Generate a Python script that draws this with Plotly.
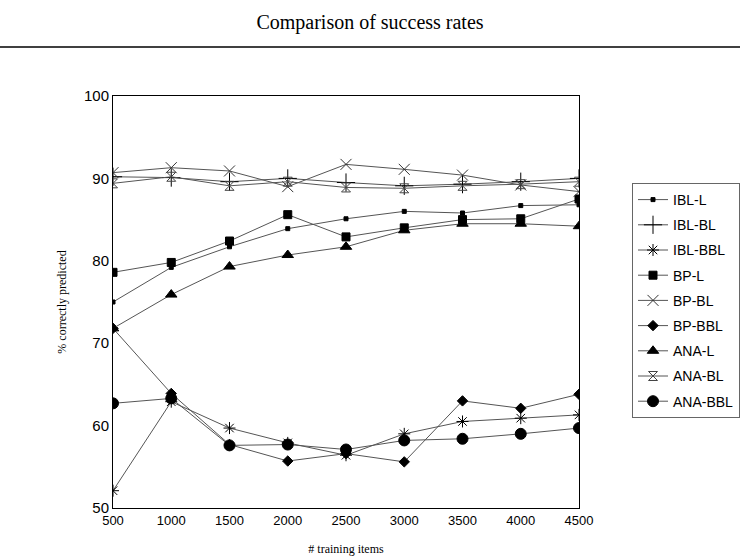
import plotly.graph_objects as go

training_items = [500, 1000, 1500, 2000, 2500, 3000, 3500, 4000, 4500]

series_names = ["IBL-L", "IBL-BL", "IBL-BBL", "BP-L", "BP-BL", "BP-BBL", "ANA-L", "ANA-BL", "ANA-BBL"]

ibl_l = [75.0, 79.2, 81.7, 83.9, 85.1, 86.0, 85.8, 86.7, 86.8]
ibl_bl = [90.2, 90.1, 89.6, 90.0, 89.5, 89.1, 89.3, 89.6, 90.0]
ibl_bbl = [52.1, 62.9, 59.7, 57.9, 56.4, 59.0, 60.5, 60.9, 61.3]
bp_l = [78.6, 79.8, 82.4, 85.6, 82.9, 84.0, 85.0, 85.1, 87.5]
bp_bl = [90.7, 91.3, 90.9, 89.0, 91.7, 91.1, 90.4, 89.2, 88.4]
bp_bbl = [71.8, 63.9, 57.7, 55.7, 56.6, 55.6, 63.0, 62.1, 63.8]
ana_l = [71.8, 75.9, 79.3, 80.7, 81.7, 83.7, 84.5, 84.5, 84.2]
ana_bl = [89.4, 90.2, 89.1, 89.6, 88.9, 88.8, 89.1, 89.3, 89.6]
ana_bbl = [62.7, 63.3, 57.6, 57.7, 57.1, 58.2, 58.4, 59.0, 59.7]

values = [ibl_l, ibl_bl, ibl_bbl, bp_l, bp_bl, bp_bbl, ana_l, ana_bl, ana_bbl]

styles = [
    dict(symbol="square", size=4, color="black"),
    dict(symbol="cross-thin-open", size=13, color="black"),
    dict(symbol="asterisk-open", size=10, color="black"),
    dict(symbol="square", size=8, color="black"),
    dict(symbol="x-thin-open", size=11, color="#333333"),
    dict(symbol="diamond", size=8, color="black"),
    dict(symbol="triangle-up", size=10, color="black"),
    dict(symbol="hourglass-open", size=9, color="#444444"),
    dict(symbol="circle", size=11, color="black"),
]

fig = go.Figure()
for name, vals, st in zip(series_names, values, styles):
    fig.add_trace(go.Scatter(
        x=training_items, y=vals, name=name, mode="lines+markers",
        line=dict(color="#555555", width=1),
        marker=dict(symbol=st["symbol"], size=st["size"], color=st["color"],
                    line=dict(color=st["color"], width=1)),
        legendgroup=name,
    ))

L, R, T, B = 113, 579, 96, 508
W, H = 740, 557
pw, ph = R - L, B - T

fig.update_layout(
    width=W, height=H,
    margin=dict(l=L, r=W - R, t=T, b=H - B, pad=0, autoexpand=False),
    paper_bgcolor="white", plot_bgcolor="white",
    title=dict(text="Comparison of success rates", x=0.5, xanchor="center",
               y=1 - 22 / H, yanchor="middle",
               font=dict(family="Liberation Serif, Times New Roman, serif", size=20, color="black")),
    legend=dict(x=(632 - L) / pw, y=(B - 183) / ph, xanchor="left", yanchor="top",
                bordercolor="#666666", borderwidth=1, bgcolor="white",
                font=dict(family="Liberation Sans, Arial, sans-serif", size=14, color="black"),
                tracegroupgap=4, itemwidth=30),
    showlegend=True,
)
fig.update_xaxes(range=[500, 4500], tickvals=training_items, ticks="", showgrid=False,
                 showline=True, linecolor="black", linewidth=1, mirror=True, zeroline=False,
                 tickfont=dict(family="Liberation Sans, Arial, sans-serif", size=13, color="black"),
                 title=dict(text="# training items", standoff=18,
                            font=dict(family="Liberation Serif, Times New Roman, serif", size=12, color="black")))
fig.update_yaxes(range=[50, 100], tickvals=[50, 60, 70, 80, 90, 100], ticks="", showgrid=False,
                 showline=True, linecolor="black", linewidth=1, mirror=True, zeroline=False,
                 tickfont=dict(family="Liberation Sans, Arial, sans-serif", size=15, color="black"),
                 title=dict(text="% correctly predicted", standoff=14,
                            font=dict(family="Liberation Serif, Times New Roman, serif", size=12, color="black")))

fig.add_shape(type="line", xref="paper", yref="paper",
              x0=-L / pw, x1=(W - L) / pw, y0=(B - 47) / ph, y1=(B - 47) / ph,
              line=dict(color="black", width=1.5))

fig.write_html("out.html")
